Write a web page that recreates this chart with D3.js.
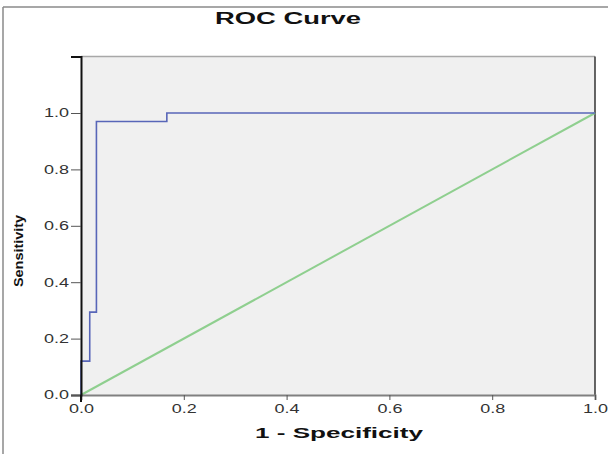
<!DOCTYPE html>
<html>
<head>
<meta charset="utf-8">
<script src="https://cdn.jsdelivr.net/npm/d3@7"></script>
<style>
  html, body { margin: 0; padding: 0; background: #fff; }
  svg { display: block; }
  text { font-family: "Liberation Sans", Arial, sans-serif; }
</style>
</head>
<body>
<svg id="chart" width="608" height="454"></svg>
<script>
// ROC curve steps (1 - specificity, sensitivity)
const fpr = [0, 0, 0.017, 0.017, 0.03, 0.03, 0.167, 0.167, 1.0];
const tpr = [0, 0.12, 0.12, 0.294, 0.294, 0.97, 0.97, 1.0, 1.0];
// Reference diagonal
const refX = [0, 1];
const refY = [0, 1];
const xTicks = [0, 0.2, 0.4, 0.6, 0.8, 1.0];
const yTicks = [0, 0.2, 0.4, 0.6, 0.8, 1.0];
const title = "ROC Curve";
const xLabel = "1 - Specificity";
const yLabel = "Sensitivity";

const svg = d3.select("#chart");
const L = 81, R = 595, T = 57, B = 395;
const x = d3.scaleLinear().domain([0, 1]).range([L, R]);
const y = d3.scaleLinear().domain([0, 1.2]).range([B, B - 1.2 * 282]);

// outer frame (left + top)
svg.append("line").attr("x1", 3).attr("y1", 7).attr("x2", 3).attr("y2", 454)
  .attr("stroke", "#8a8a8a").attr("stroke-width", 1.5);
svg.append("line").attr("x1", 3).attr("y1", 7).attr("x2", 608).attr("y2", 7)
  .attr("stroke", "#8a8a8a").attr("stroke-width", 1.5);

// plot background
svg.append("rect").attr("x", L).attr("y", y(1.2)).attr("width", R - L).attr("height", B - y(1.2))
  .attr("fill", "#f0f0f0");
svg.append("line").attr("x1", L).attr("x2", R).attr("y1", y(1.2)).attr("y2", y(1.2))
  .attr("stroke", "#a8a8a8").attr("stroke-width", 1.5);
svg.append("line").attr("x1", R).attr("x2", R).attr("y1", y(1.2)).attr("y2", B)
  .attr("stroke", "#333").attr("stroke-width", 1.5);

// diagonal
const line = d3.line().x(d => x(d[0])).y(d => y(d[1]));
svg.append("path").datum(refX.map((v, i) => [v, refY[i]]))
  .attr("d", line).attr("fill", "none").attr("stroke", "#8fcf8f").attr("stroke-width", 2);

// ROC curve
svg.append("path").datum(fpr.map((v, i) => [v, tpr[i]]))
  .attr("d", line).attr("fill", "none").attr("stroke", "#5866b8").attr("stroke-width", 1.6);

// axes
const xAxis = svg.append("g").attr("transform", `translate(0,${B})`)
  .call(d3.axisBottom(x).tickValues(xTicks).tickFormat(d3.format(".1f")).tickSize(5).tickPadding(4));
xAxis.select(".domain").attr("stroke", "#808080").attr("stroke-width", 2);
xAxis.selectAll(".tick line").attr("stroke", "#555");
xAxis.selectAll(".tick text").attr("font-size", 12).attr("fill", "#333")
  .attr("font-family", "'Liberation Sans', Arial, sans-serif")
  .attr("textLength", 25).attr("lengthAdjust", "spacingAndGlyphs");

const yAxis = svg.append("g").attr("transform", `translate(${L},0)`)
  .call(d3.axisLeft(y).tickValues(yTicks).tickFormat(d3.format(".1f")).tickSize(10).tickPadding(2));
yAxis.select(".domain").attr("stroke", "#111").attr("stroke-width", 2);
yAxis.selectAll(".tick line").attr("stroke", "#555");
yAxis.selectAll(".tick text").attr("font-size", 12).attr("fill", "#333")
  .attr("font-family", "'Liberation Sans', Arial, sans-serif")
  .attr("textLength", 25).attr("lengthAdjust", "spacingAndGlyphs");
// extend left axis slightly below the x axis
svg.append("line").attr("x1", L).attr("x2", L).attr("y1", B).attr("y2", B + 7)
  .attr("stroke", "#111").attr("stroke-width", 2);

// title
svg.append("text").attr("x", 288).attr("y", 24).attr("text-anchor", "middle")
  .attr("font-size", 16).attr("font-weight", "bold").attr("fill", "#111")
  .attr("textLength", 146).attr("lengthAdjust", "spacingAndGlyphs").text(title);

// x label
svg.append("text").attr("x", 339).attr("y", 438).attr("text-anchor", "middle")
  .attr("font-size", 14).attr("font-weight", "bold").attr("fill", "#111")
  .attr("textLength", 168).attr("lengthAdjust", "spacingAndGlyphs").text(xLabel);

// y label
svg.append("text").attr("transform", "translate(23,251) rotate(-90)").attr("text-anchor", "middle")
  .attr("font-size", 13).attr("font-weight", "bold").attr("fill", "#111")
  .attr("textLength", 72).attr("lengthAdjust", "spacingAndGlyphs").text(yLabel);
</script>
</body>
</html>
